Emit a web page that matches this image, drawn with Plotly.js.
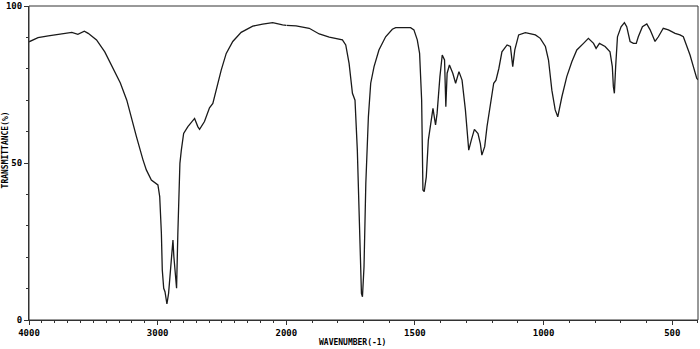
<!DOCTYPE html>
<html>
<head>
<meta charset="utf-8">
<script src="https://cdn.plot.ly/plotly-3.0.1.min.js"></script>
<style>html,body{margin:0;padding:0;background:#fff;}#chart{width:700px;height:349px;}</style>
</head>
<body>
<div id="chart"></div>
<script>
// 4000-2000 cm-1 region (compressed scale)
const wavenumbersHigh = [4000,3930,3850,3750,3667,3620,3570,3540,3475,3411,3347,3290,3240,3204,3165,3114,3088,3049,3023,2998,2984,2971,2964,2953,2943,2935,2928,2915,2902,2886,2881,2874,2860,2853,2843,2835,2827,2816,2798,2765,2713,2688,2674,2636,2597,2571,2545,2506,2467,2416,2351,2261,2184,2106,2029,2000];
const transmittanceHigh = [88.6,89.9,90.5,91.0,91.6,91.0,92.0,91.3,89.2,85.4,80.1,75.5,70,64,58.4,51,47.8,44.6,43.7,43,39.3,27.6,15.9,10.1,9,6.5,5.1,8.5,15.9,22.8,25.5,20.2,14.9,10.1,27.6,40.3,49.9,54.1,59.4,61.6,64.2,61.6,60.7,63.2,67.6,69,73.2,79.6,84.9,88.7,91.6,93.6,94.2,94.7,94,93.8];
// 2000-400 cm-1 region
const wavenumbersLow = [2000,1962,1911,1872,1833,1795,1782,1769,1756,1743,1733,1724,1714,1708,1704,1698,1691,1681,1672,1659,1640,1614,1588,1575,1517,1504,1491,1482,1474,1469,1464,1456,1448,1439,1430,1420,1414,1403,1394,1385,1380,1375,1366,1353,1342,1329,1317,1304,1291,1281,1269,1255,1246,1240,1229,1220,1207,1194,1185,1174,1162,1142,1129,1120,1112,1097,1071,1032,1013,993,981,968,955,945,929,910,890,871,845,826,806,796,783,761,742,733,729,725,720,713,699,686,677,664,651,640,632,616,599,586,567,554,535,515,489,470,457,444,431,418,405,400];
const transmittanceLow = [93.8,93.7,92.9,91.1,90.1,89.4,89.2,87.6,81.7,72.2,70,54.1,27.6,8.5,7.4,17,43.5,64.7,75.4,80.7,86,90.2,92.6,93.1,93.1,92.4,89.2,84.9,70,41.4,40.9,45.6,57.3,62.6,67.4,62.1,65.8,77.5,84.4,82.8,67.9,78.6,81.2,78.6,75.4,79.1,76.4,66.9,54.1,57.3,60.7,59.4,56.2,52.5,55.2,61.6,69,75.4,76.4,80.1,85.4,87.6,87.1,80.7,86,90.8,91.5,90.8,89.7,87.1,82.8,73.2,66.9,64.7,71.1,77.5,82.3,86,88.1,89.7,88.1,86.5,88.1,87.1,85.4,80.7,74.4,72.2,80.7,90.2,93.4,94.7,93.4,88.7,88.1,88.1,90.2,93.4,94.3,92.4,88.7,90.2,92.9,92.4,91.3,90.8,90.2,87.6,84.4,80.7,77,76.5];

const xTicksHigh = [4000, 3000];
const xTickTextHigh = ['4000', '3000'];
const xTicksLow = [2000, 1500, 1000, 500];
const xTickTextLow = ['2000', '1500', '1000', '500'];
const yTicks = [0, 50, 100];
const yTickText = ['0', '50', '100'];
const xTitle = 'WAVENUMBER(-1)';
const yTitle = 'TRANSMITTANCE(%)';

const lineStyle = {color: '#1a1a1a', width: 1.3};
const tickFont = {family: 'DejaVu Sans Mono', size: 9, color: '#000', weight: 'bold'};

const traces = [
  {x: wavenumbersHigh, y: transmittanceHigh, xaxis: 'x', yaxis: 'y', mode: 'lines', line: lineStyle, hoverinfo: 'skip'},
  {x: wavenumbersLow, y: transmittanceLow, xaxis: 'x2', yaxis: 'y', mode: 'lines', line: lineStyle, hoverinfo: 'skip'}
];

const split = 1000 / 2600;
const axisCommon = {
  showgrid: false, zeroline: false, showline: true, linecolor: '#333', linewidth: 1,
  ticks: 'outside', ticklen: 4, tickcolor: '#333', tickfont: tickFont, fixedrange: true
};

const layout = {
  width: 700, height: 349,
  margin: {l: 29, r: 2, t: 6, b: 29, pad: 0},
  paper_bgcolor: '#fff', plot_bgcolor: '#fff',
  showlegend: false,
  xaxis: Object.assign({}, axisCommon, {
    domain: [0, split], range: [4000, 2000], anchor: 'y',
    tickmode: 'array', tickvals: xTicksHigh, ticktext: xTickTextHigh,
    minor: {tickmode: 'linear', tick0: 0, dtick: 100, ticks: 'outside', ticklen: 2, tickcolor: '#333'}
  }),
  xaxis2: Object.assign({}, axisCommon, {
    domain: [split, 1], range: [2000, 400], anchor: 'y',
    tickmode: 'array', tickvals: xTicksLow, ticktext: xTickTextLow,
    minor: {tickmode: 'linear', tick0: 0, dtick: 100, ticks: 'outside', ticklen: 2, tickcolor: '#333'}
  }),
  yaxis: Object.assign({}, axisCommon, {
    range: [0, 100], anchor: 'x',
    tickmode: 'array', tickvals: yTicks, ticktext: yTickText,
    minor: {tickmode: 'linear', tick0: 0, dtick: 10, ticks: 'outside', ticklen: 2, tickcolor: '#333'}
  }),
  shapes: [
    {type: 'rect', xref: 'paper', yref: 'paper', x0: 0, x1: 1, y0: 0, y1: 1, line: {color: '#333', width: 1}}
  ],
  annotations: [
    {text: xTitle, xref: 'paper', yref: 'paper', x: 0.483, y: 0, yshift: -22, showarrow: false,
     xanchor: 'center', yanchor: 'middle', font: {family: 'DejaVu Sans Mono', size: 8, color: '#000', weight: 'bold'}},
    {text: yTitle, xref: 'paper', yref: 'paper', x: 0, xshift: -24, y: 0.54, showarrow: false, textangle: -90,
     xanchor: 'center', yanchor: 'middle', font: {family: 'DejaVu Sans Mono', size: 8, color: '#000', weight: 'bold'}}
  ]
};

Plotly.newPlot('chart', traces, layout, {staticPlot: true, displayModeBar: false});
</script>
</body>
</html>
